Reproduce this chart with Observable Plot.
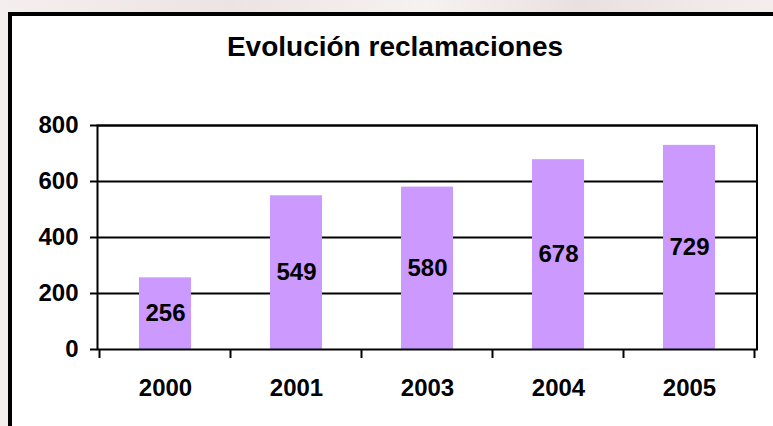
<!DOCTYPE html>
<html>
<head>
<meta charset="utf-8">
<script src="https://cdn.jsdelivr.net/npm/d3@7"></script>
<script src="https://cdn.jsdelivr.net/npm/@observablehq/plot@0.6"></script>
<style>
  html, body { margin: 0; padding: 0; width: 773px; height: 426px; overflow: hidden; }
  body { background: linear-gradient(90deg, #f4efee 0%, #ece4e2 30%, #f6f2f0 55%, #e9e1df 75%, #f3eeec 100%); position: relative; font-family: "Liberation Sans", Arial, sans-serif; }
  #box { position: absolute; left: 8px; top: 12px; width: 820px; height: 480px; border: 4px solid #000; background: #fff; }
  #title { position: absolute; left: 0; width: 790px; top: 31px; text-align: center; font-weight: bold; font-size: 28px; color: #000; }
  #chart { position: absolute; left: 0; top: 0; }
</style>
</head>
<body>
<div id="box"></div>
<div id="title">Evolución reclamaciones</div>
<div id="chart"></div>
<script>
const years = ["2000", "2001", "2003", "2004", "2005"];
const values = [256, 549, 580, 678, 729];
const yTicks = [0, 200, 400, 600, 800];
const gridValues = [200, 400, 600, 800];

const data = years.map((y, i) => ({year: y, value: values[i]}));

const chart = Plot.plot({
  width: 773,
  height: 426,
  marginLeft: 97,
  marginRight: 16.5,
  marginTop: 125,
  marginBottom: 77,
  style: {background: "transparent", fontFamily: "'Liberation Sans', Arial, sans-serif", color: "#000"},
  x: {domain: years, type: "band", paddingInner: 0.6, paddingOuter: 0.3, label: null},
  y: {domain: [0, 800], label: null},
  marks: [
    Plot.ruleY(gridValues, {stroke: "#000", strokeWidth: 2}),
    Plot.barY(data, {x: "year", y: "value", fill: "#cc99ff", inset: 0}),
    Plot.frame({stroke: "#000", strokeWidth: 2}),
    Plot.axisY({ticks: yTicks, tickSize: 7, tickPadding: 12, strokeWidth: 2, fontSize: 24, fontWeight: "bold", label: null}),
    Plot.axisX({tickSize: 0, tickPadding: 29, fontSize: 24, fontWeight: "bold", label: null}),
    Plot.text(data, {x: "year", y: d => d.value / 2, text: d => String(d.value), fontSize: 24, fontWeight: "bold", fill: "#000"})
  ]
});

document.getElementById("chart").appendChild(chart);

// category boundary ticks below the x axis, derived from the band scale
const sx = chart.scale("x");
const sy = chart.scale("y");
const step = sx.step, bw = sx.bandwidth;
const gap = (step - bw) / 2;
const bounds = years.map(y => sx.apply(y) - gap);
bounds.push(sx.apply(years[years.length - 1]) + bw + gap);
const y0 = sy.apply(0);
d3.select(chart).append("g")
  .attr("stroke", "#000").attr("stroke-width", 2)
  .selectAll("line").data(bounds).join("line")
  .attr("x1", d => d).attr("x2", d => d)
  .attr("y1", y0).attr("y2", y0 + 9);
</script>
</body>
</html>
